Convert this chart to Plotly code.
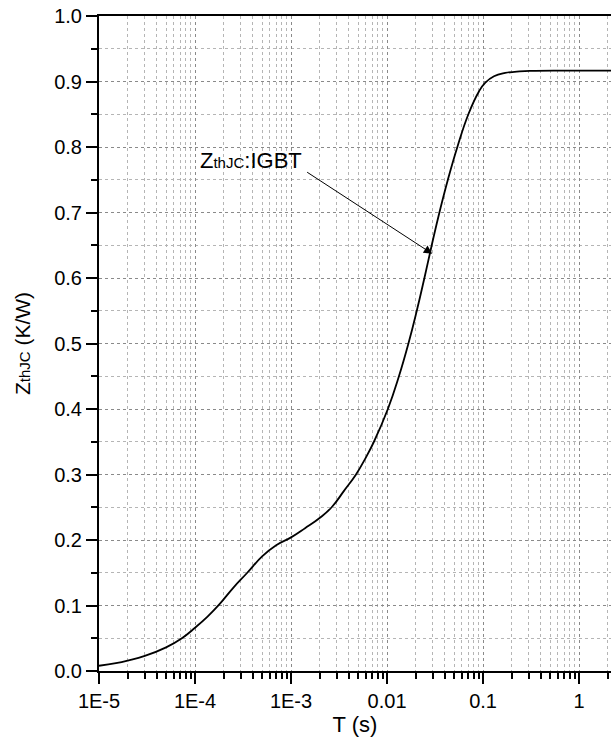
import numpy as np
import plotly.graph_objects as go

# Transient thermal impedance curve
t_s = [1e-5, 1.5e-5, 2e-5, 3e-5, 5e-5, 7.3e-5, 1e-4, 1.35e-4, 1.8e-4, 2.5e-4, 3.5e-4,
       5e-4, 7e-4, 1e-3, 1.4e-3, 2e-3, 2.65e-3, 3.56e-3, 4.75e-3, 5.97e-3, 7.3e-3, 0.0102,
       0.0133, 0.0167, 0.0204, 0.0245, 0.0292, 0.0351, 0.043, 0.054, 0.0703, 0.09,
       0.105, 0.13, 0.17, 0.24, 0.35, 0.6, 1.0, 2.0, 3.0]
zth = [0.008, 0.012, 0.016, 0.023, 0.036, 0.050, 0.066, 0.083, 0.102, 0.127, 0.150,
       0.175, 0.192, 0.204, 0.218, 0.234, 0.250, 0.275, 0.300, 0.325, 0.350, 0.400,
       0.450, 0.500, 0.550, 0.600, 0.650, 0.700, 0.750, 0.800, 0.850, 0.884,
       0.898, 0.908, 0.913, 0.9155, 0.9162, 0.9165, 0.9165, 0.9165, 0.9165]

x_major = [1e-5, 1e-4, 1e-3, 1e-2, 1e-1, 1]
x_labels = ["1E-5", "1E-4", "1E-3", "0.01", "0.1", "1"]
x_minor = [k * 10.0 ** e for e in range(-5, 1) for k in range(2, 10)]

label_text = "Z<span style='font-size:15px'>thJC</span>:IGBT"
arrow_head = (0.0296, 0.637)
arrow_tail = (1.42e-3, 0.763)
label_pos = (3.83e-4, 0.780)

FONT = "Liberation Sans, Arial, sans-serif"

fig = go.Figure()
fig.add_trace(go.Scatter(x=t_s, y=zth, mode="lines",
                         line=dict(color="black", width=1.8, shape="spline", smoothing=1.3),
                         showlegend=False, hoverinfo="skip"))

fig.add_annotation(x=np.log10(arrow_head[0]), y=arrow_head[1], xref="x", yref="y",
                   ax=np.log10(arrow_tail[0]), ay=arrow_tail[1], axref="x", ayref="y",
                   showarrow=True, arrowhead=2, arrowsize=1.7, arrowwidth=1,
                   arrowcolor="black", text="")
fig.add_annotation(x=np.log10(label_pos[0]), y=label_pos[1], xref="x", yref="y",
                   text=label_text, showarrow=False,
                   font=dict(family=FONT, size=22, color="black"))

fig.update_layout(
    width=611, height=749,
    margin=dict(l=99, r=0, t=16, b=78),
    paper_bgcolor="white", plot_bgcolor="white",
    font=dict(family=FONT, size=20, color="black"),
    xaxis=dict(
        type="log", range=[-5, np.log10(2.15)],
        tickmode="array", tickvals=x_major, ticktext=x_labels,
        ticks="outside", ticklen=11, tickwidth=2, tickcolor="black",
        showline=True, linewidth=2, linecolor="black", mirror=True,
        showgrid=True, gridcolor="#8a8a8a", griddash="dot", gridwidth=1,
        zeroline=False,
        minor=dict(tickmode="array", tickvals=x_minor, ticks="outside", ticklen=6,
                   tickwidth=1.5, tickcolor="black", showgrid=True,
                   gridcolor="#b5b5b5", griddash="dot", gridwidth=1),
        title=dict(text="T (s)", font=dict(size=22), standoff=6),
        tickfont=dict(size=20),
    ),
    yaxis=dict(
        range=[0, 1.0], dtick=0.1, tick0=0, tickformat=".1f",
        ticks="outside", ticklen=11, tickwidth=2, tickcolor="black",
        showline=True, linewidth=2, linecolor="black",
        showgrid=True, gridcolor="#8a8a8a", griddash="dot", gridwidth=1,
        zeroline=False,
        minor=dict(dtick=0.05, ticks="outside", ticklen=6, tickwidth=1.5,
                   tickcolor="black", showgrid=True, gridcolor="#b5b5b5",
                   griddash="dot", gridwidth=1),
        title=dict(text="Z<span style='font-size:15px'>thJC</span> (K/W)",
                   font=dict(size=21), standoff=18),
        tickfont=dict(size=20),
    ),
)

fig.write_html("out.html")
